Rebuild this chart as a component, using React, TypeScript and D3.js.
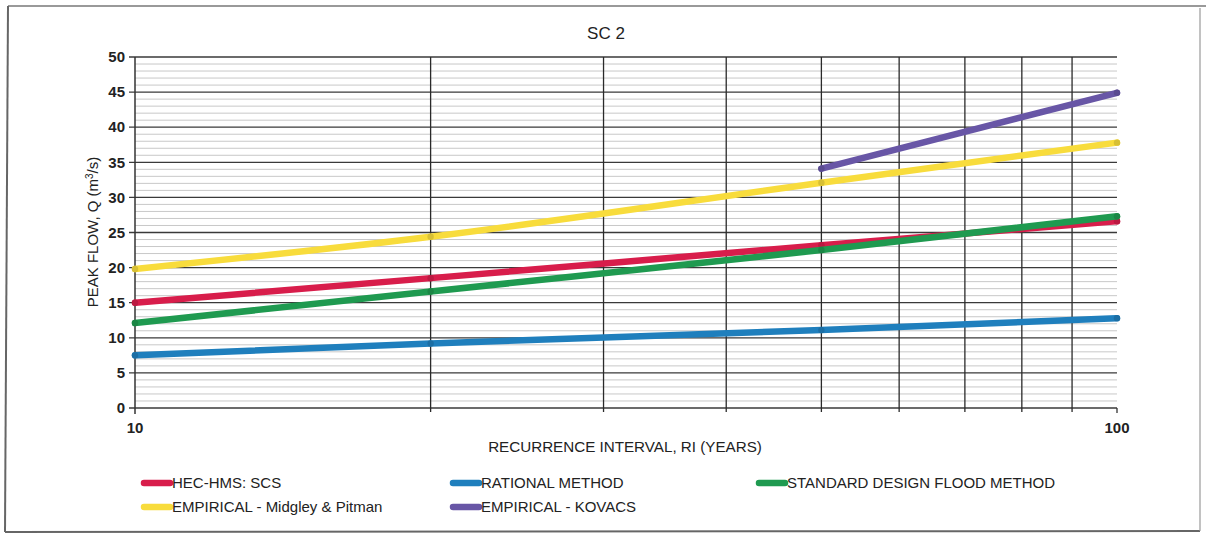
import React from "react";
import * as d3 from "d3";

// Recurrence intervals (years) at which peak flows were computed
const recurrence = [10, 20, 50, 100];

// Peak flow estimates, Q (m³/s), per method
const hecHmsScs = [15.0, 18.5, 23.2, 26.6];
const rationalMethod = [7.5, 9.2, 11.1, 12.8];
const standardDesignFlood = [12.1, 16.6, 22.5, 27.3];
const midgleyPitman = [19.8, 24.4, 32.1, 37.8];
const kovacsRecurrence = [50, 100];
const kovacs = [34.1, 44.9];

const yTicks = [0, 5, 10, 15, 20, 25, 30, 35, 40, 45, 50];
const xTickLabels = [10, 100];
const xGridValues = [20, 30, 40, 50, 60, 70, 80, 90];

const series = [
  { name: "HEC-HMS: SCS", x: recurrence, y: hecHmsScs, color: "#d81d4b" },
  { name: "RATIONAL METHOD", x: recurrence, y: rationalMethod, color: "#1f7fbd" },
  { name: "STANDARD DESIGN FLOOD METHOD", x: recurrence, y: standardDesignFlood, color: "#1f9a50" },
  { name: "EMPIRICAL - Midgley & Pitman", x: recurrence, y: midgleyPitman, color: "#f8dc3c" },
  { name: "EMPIRICAL - KOVACS", x: kovacsRecurrence, y: kovacs, color: "#6856a6" },
];

const FONT = "'Liberation Sans', Arial, Helvetica, sans-serif";

export default function App() {
  const W = 1206;
  const H = 536;
  const left = 135;
  const top = 57;
  const right = 1117;
  const bottom = 408;

  const x = d3.scaleLog().domain([10, 100]).range([left, right]);
  const y = d3.scaleLinear().domain([0, 50]).range([bottom, top]);

  const minorY = d3.range(0, 51, 1).filter((v) => v % 5 !== 0);

  const line = d3
    .line<[number, number]>()
    .x((d) => x(d[0]))
    .y((d) => y(d[1]))
    .curve(d3.curveMonotoneX);

  // Legend layout: two rows, three columns
  const legendCols = [141, 450, 756];
  const legendRows = [483, 507];

  return (
    <svg
      width={W}
      height={H}
      style={{ position: "absolute", left: 0, top: 0, background: "#fff" }}
      fontFamily={FONT}
    >
      <rect x={0} y={0} width={W} height={H} fill="#fff" />
      {/* outer frame */}
      <line x1={8} y1={6} x2={W} y2={6} stroke="#777" strokeWidth={1.5} />
      <line x1={8} y1={6} x2={5} y2={532} stroke="#666" strokeWidth={2} />
      <line x1={5} y1={532} x2={1200} y2={531} stroke="#666" strokeWidth={2} />
      <line x1={1200} y1={8} x2={1200} y2={531} stroke="#999" strokeWidth={1.2} />

      {/* title */}
      <text x={606} y={39} textAnchor="middle" fontSize={17} fill="#222">
        SC 2
      </text>

      {/* minor horizontal grid */}
      {minorY.map((v) => (
        <line key={"m" + v} x1={left} x2={right} y1={y(v)} y2={y(v)} stroke="#c8c8c8" strokeWidth={1} />
      ))}

      {/* major horizontal grid */}
      {yTicks.map((v) => (
        <line key={"M" + v} x1={left - 6} x2={right} y1={y(v)} y2={y(v)} stroke="#3a3a3a" strokeWidth={1.3} />
      ))}

      {/* vertical grid */}
      {xGridValues.map((v) => (
        <line key={"v" + v} x1={x(v)} x2={x(v)} y1={top} y2={bottom + 4} stroke="#2a2a2a" strokeWidth={1.3} />
      ))}

      {/* axes */}
      <line x1={left} x2={left} y1={top} y2={bottom + 6} stroke="#333" strokeWidth={1.5} />
      <line x1={right} x2={right} y1={bottom} y2={bottom + 5} stroke="#333" strokeWidth={1.3} />

      {/* y tick labels */}
      {yTicks.map((v) => (
        <text
          key={"yt" + v}
          x={left - 10}
          y={y(v)}
          dy="0.35em"
          textAnchor="end"
          fontSize={15}
          fontWeight="bold"
          fill="#222"
        >
          {v}
        </text>
      ))}

      {/* x tick labels */}
      {xTickLabels.map((v) => (
        <text
          key={"xt" + v}
          x={x(v)}
          y={bottom + 25}
          textAnchor="middle"
          fontSize={15}
          fontWeight="bold"
          fill="#222"
        >
          {v}
        </text>
      ))}

      {/* axis titles */}
      <text x={625} y={452} textAnchor="middle" fontSize={15.2} fill="#222">
        RECURRENCE INTERVAL, RI (YEARS)
      </text>
      <text
        transform={`translate(98, ${232}) rotate(-90)`}
        textAnchor="middle"
        fontSize={15}
        fill="#222"
      >
        PEAK FLOW, Q (m
        <tspan fontSize={10} dy={-5}>3</tspan>
        <tspan dy={5}>/s)</tspan>
      </text>

      {/* series */}
      {series.map((s) => {
        const pts = s.x.map((xv, i) => [xv, s.y[i]] as [number, number]);
        return (
          <g key={s.name}>
            <path d={line(pts) || ""} fill="none" stroke={s.color} strokeWidth={6.5} strokeLinecap="round" />
            {pts.map((p, i) => (
              <circle key={i} cx={x(p[0])} cy={y(p[1])} r={3.2} fill={d3.color(s.color)!.darker(0.4).toString()} />
            ))}
          </g>
        );
      })}

      {/* legend */}
      {series.map((s, k) => {
        const col = legendCols[k % 3];
        const row = legendRows[Math.floor(k / 3)];
        return (
          <g key={"lg" + s.name}>
            <line x1={col + 3} x2={col + 29} y1={row} y2={row} stroke={s.color} strokeWidth={6.5} strokeLinecap="round" />
            <text x={col + 31} y={row} dy="0.35em" fontSize={15} fill="#222">
              {s.name}
            </text>
          </g>
        );
      })}
    </svg>
  );
}
